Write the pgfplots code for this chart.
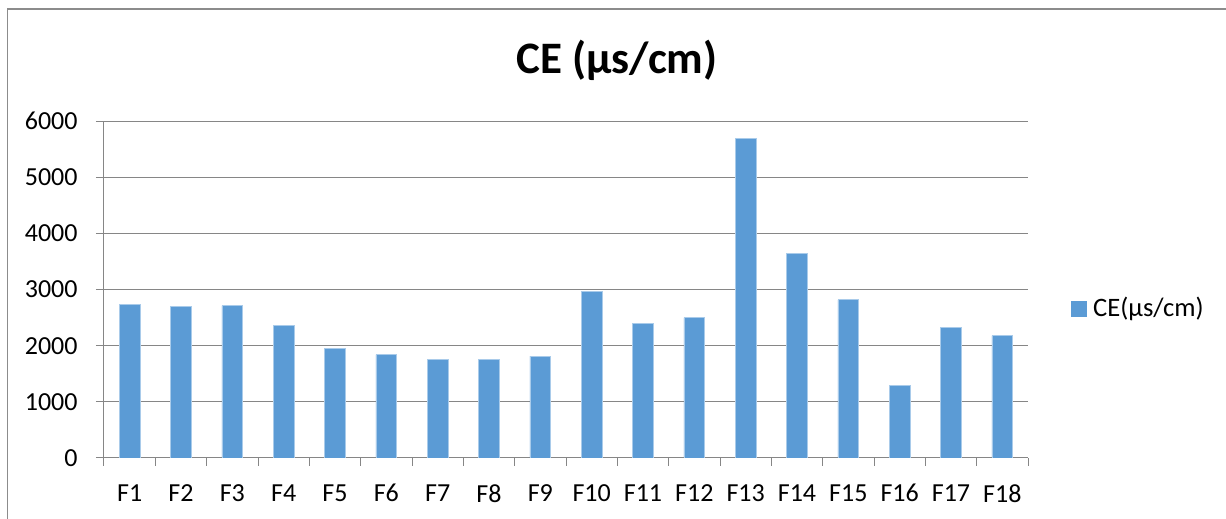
\documentclass[border=0pt]{standalone}
\usepackage{pgfplots}
\pgfplotsset{compat=1.18}
\usepackage{fontspec}
\setmainfont{Carlito}
\definecolor{barblue}{HTML}{5B9BD5}
\definecolor{baredge}{HTML}{A9CBEA}
\definecolor{gridgray}{HTML}{868686}
\definecolor{framegray}{HTML}{8C8C8C}
\begin{document}
\begin{tikzpicture}[x=1pt,y=1pt]
\useasboundingbox (0,0) rectangle (613,259.5);
\draw[framegray, line width=0.6pt] (3.75,0) -- (3.75,255) -- (613,255);
\node[font=\fontsize{22.5}{27}\selectfont\bfseries, anchor=base] at (308.5,222.5) {CE (µs/cm)};
\begin{axis}[
  at={(52pt,30.5pt)}, anchor=south west,
  scale only axis, width=462pt, height=168.5pt,
  ybar, bar width=10.35pt,
  xmin=0.5, xmax=18.5, ymin=0, ymax=6000,
  axis lines*=left,
  axis line style={gridgray, line width=0.5pt},
  xtick={1,...,18},
  xticklabels={F1,F2,F3,F4,F5,F6,F7,F8,F9,F10,F11,F12,F13,F14,F15,F16,F17,F18},
  minor xtick={0.5,1.5,...,18.5},
  major x tick style={draw=none},
  minor x tick style={gridgray, line width=0.5pt},
  minor tick length=4pt,
  ytick={0,1000,...,6000},
  y tick style={gridgray, line width=0.5pt},
  major tick length=4pt,
  tick align=outside,
  ymajorgrids, grid style={gridgray, line width=0.5pt},
  scaled y ticks=false,
  /pgf/number format/1000 sep={},
  /pgf/number format/assume math mode=true,
  ticklabel style={font=\fontsize{13}{15}\selectfont},
  xticklabel style={anchor=north, inner sep=0pt, yshift=-9pt},
  yticklabel style={anchor=east, inner sep=0pt, xshift=-9pt},
  legend style={at={(1.0465,0.4436)}, anchor=west, draw=none, fill=none,
    inner sep=0pt, font=\fontsize{13.3}{15}\selectfont,
    nodes={inner sep=0pt}},
  legend image code/.code={\fill[barblue] (0pt,-3.75pt) rectangle (7.5pt,3.75pt);},
  legend cell align=left,
]
\addplot[fill=barblue, draw=baredge, line width=0.4pt] coordinates {
(1,2727)(2,2703)(3,2715)(4,2353)(5,1955)(6,1842)(7,1759)(8,1747)(9,1812)
(10,2965)(11,2395)(12,2501)(13,5692)(14,3642)(15,2816)(16,1295)(17,2323)(18,2181)};
\addlegendentry{\hspace{3pt}CE(µs/cm)}
\end{axis}
\end{tikzpicture}
\end{document}
